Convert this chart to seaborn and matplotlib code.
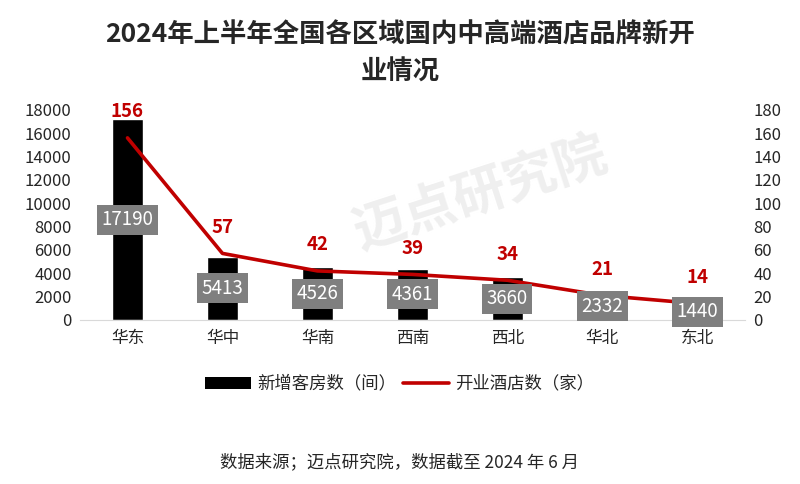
import matplotlib
matplotlib.use('Agg')
import matplotlib.pyplot as plt
import seaborn as sns
from matplotlib.patches import Patch
from matplotlib.lines import Line2D

# 数据：各区域新增客房数与开业酒店数
regions = ['华东', '华中', '华南', '西南', '西北', '华北', '东北']
rooms = [17190, 5413, 4526, 4361, 3660, 2332, 1440]
hotels = [156, 57, 42, 39, 34, 21, 14]

title = '2024年上半年全国各区域国内中高端酒店品牌新开\n业情况'
source = '数据来源；迈点研究院，数据截至 2024 年 6 月'

sns.set_style('white')
plt.rcParams['font.family'] = ['Noto Sans CJK SC', 'DejaVu Sans']

red = '#C00000'
fig = plt.figure(figsize=(8, 4.84), dpi=100)
ax = fig.add_axes([0.1, 0.339, 0.831, 0.434])

# 柱状图：新增客房数
sns.barplot(x=regions, y=rooms, color='black', width=0.32, saturation=1, ax=ax)
ax.set_ylim(0, 18000)
ax.set_yticks(range(0, 18001, 2000))
ax.set_xlim(-0.5, len(regions) - 0.5)

# 折线图：开业酒店数（次坐标轴）
ax2 = ax.twinx()
sns.lineplot(x=regions, y=hotels, color=red, linewidth=2.6, sort=False, ax=ax2)
ax2.set_ylim(0, 180)
ax2.set_yticks(range(0, 181, 20))

for a in (ax, ax2):
    for s in a.spines.values():
        s.set_visible(False)
    a.tick_params(axis='y', length=0, labelsize=12, pad=6)
    a.set_xlabel('')
    a.set_ylabel('')
ax.spines['bottom'].set_visible(True)
ax.spines['bottom'].set_color('#d9d9d9')
ax.tick_params(axis='x', length=0, labelsize=12, pad=7)

# 柱子数值标签（灰底白字）
for i, v in enumerate(rooms):
    ax2.text(i, v / 2, str(v), transform=ax.transData, ha='center', va='center',
             color='white', fontsize=13.5, zorder=5,
             bbox=dict(facecolor='#7f7f7f', edgecolor='none', pad=3.2))

# 折线数值标签
for i, v in enumerate(hotels):
    ax2.annotate(str(v), (i, v), xytext=(0, 12), textcoords='offset points',
                 ha='center', va='bottom', color=red, fontsize=13.5, fontweight='bold')

# 水印
fig.text(0.6, 0.6, '迈点研究院', fontsize=38, color='#efefef', rotation=18,
         ha='center', va='center', fontweight='bold', zorder=0)

fig.suptitle(title, fontsize=19, fontweight='bold', y=0.955, linespacing=1.45)

handles = [Patch(facecolor='black', edgecolor='none'),
           Line2D([0], [0], color=red, linewidth=2.6)]
fig.legend(handles, ['新增客房数（间）', '开业酒店数（家）'], loc='center',
           bbox_to_anchor=(0.5, 0.207), ncol=2, frameon=False, fontsize=12.5,
           handlelength=2.6, handleheight=0.7, columnspacing=0.4, handletextpad=0.4)

fig.text(0.5, 0.045, source, ha='center', va='center', fontsize=12.5)

fig.savefig('out.png', dpi=100)
